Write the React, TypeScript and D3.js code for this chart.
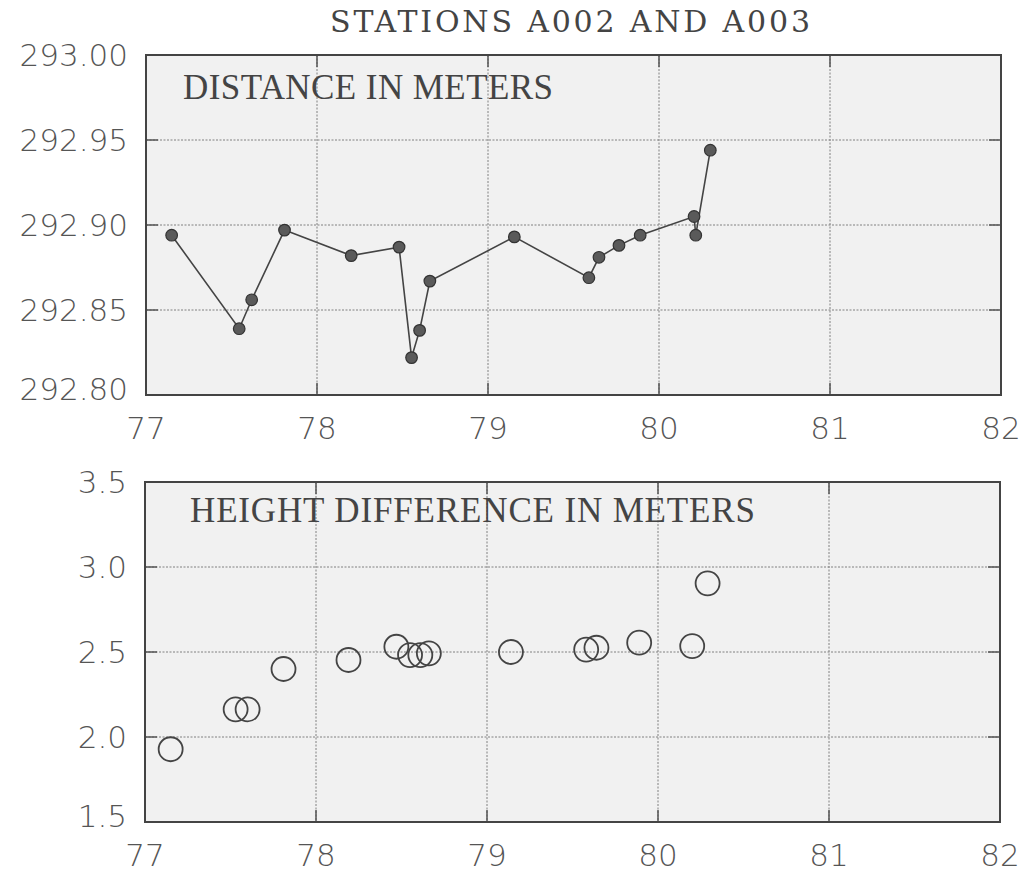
import React from "react";
import * as d3 from "d3";

const chartTitle = "STATIONS A002 AND A003";
const distanceLabel = "DISTANCE IN METERS";
const heightLabel = "HEIGHT DIFFERENCE IN METERS";

const xTicks = [77, 78, 79, 80, 81, 82];
const distanceTicks = [292.8, 292.85, 292.9, 292.95, 293.0];
const heightTicks = [1.5, 2.0, 2.5, 3.0, 3.5];

const distanceTimes = [77.15, 77.545, 77.618, 77.81, 78.2, 78.48, 78.553, 78.6, 78.66, 79.154, 79.59, 79.649, 79.766, 79.89, 80.205, 80.215, 80.3];
const distanceValues = [292.894, 292.839, 292.856, 292.897, 292.882, 292.887, 292.822, 292.838, 292.867, 292.893, 292.869, 292.881, 292.888, 292.894, 292.905, 292.894, 292.944];

const heightTimes = [77.15, 77.53, 77.6, 77.81, 78.19, 78.47, 78.55, 78.61, 78.66, 79.14, 79.58, 79.64, 79.89, 80.2, 80.29];
const heightValues = [1.928, 2.163, 2.163, 2.4, 2.453, 2.531, 2.482, 2.482, 2.492, 2.5, 2.514, 2.525, 2.555, 2.535, 2.904];

const labelFont = "'DejaVu Sans', sans-serif";
const serifFont = "'Liberation Serif', 'DejaVu Serif', serif";
const titleFont = "'DejaVu Serif', serif";

type PanelProps = {
  x: d3.ScaleLinear<number, number>;
  y: d3.ScaleLinear<number, number>;
  yTicks: number[];
  fmt: (v: number) => string;
  label: string;
  labelY: number;
  labelX: number;
  labelLen: number;
  children?: React.ReactNode;
};

function Panel({ x, y, yTicks, fmt, label, labelX, labelY, labelLen, children }: PanelProps) {
  const [x0, x1] = x.range();
  const [y0, y1] = y.range(); // y0 bottom, y1 top
  const tick = 12;
  return (
    <g>
      <rect x={x0} y={y1} width={x1 - x0} height={y0 - y1} fill="#f1f1f1" />
      {xTicks.slice(1, -1).map((t) => (
        <line key={"gx" + t} x1={x(t)} x2={x(t)} y1={y1} y2={y0} stroke="#808080" strokeWidth={1} strokeDasharray="2,1.5" />
      ))}
      {yTicks.slice(1, -1).map((t) => (
        <line key={"gy" + t} x1={x0} x2={x1} y1={y(t)} y2={y(t)} stroke="#808080" strokeWidth={1} strokeDasharray="2,1.5" />
      ))}
      {xTicks.slice(1, -1).map((t) => (
        <g key={"tx" + t}>
          <line x1={x(t)} x2={x(t)} y1={y0} y2={y0 - tick} stroke="#555" strokeWidth={1.5} />
          <line x1={x(t)} x2={x(t)} y1={y1} y2={y1 + tick} stroke="#555" strokeWidth={1.5} />
        </g>
      ))}
      {yTicks.slice(1, -1).map((t) => (
        <g key={"ty" + t}>
          <line x1={x0} x2={x0 + tick} y1={y(t)} y2={y(t)} stroke="#555" strokeWidth={1.5} />
          <line x1={x1} x2={x1 - tick} y1={y(t)} y2={y(t)} stroke="#555" strokeWidth={1.5} />
        </g>
      ))}
      <rect x={x0} y={y1} width={x1 - x0} height={y0 - y1} fill="none" stroke="#444" strokeWidth={2} />
      <text x={labelX} y={labelY} fontFamily={serifFont} fontSize={35} fill="#444" textLength={labelLen} lengthAdjust="spacing">
        {label}
      </text>
      {children}
      {yTicks.map((t, i) => (
        <text key={"ly" + t} x={x0 - 18} y={y(t) + (i === 0 ? -6 : 0)} textAnchor="end" dominantBaseline="central" fontFamily={labelFont} fontSize={31} fill="#555" fontWeight={300}>
          {fmt(t)}
        </text>
      ))}
      {xTicks.map((t) => (
        <text key={"lx" + t} x={x(t)} y={y0 + 33} textAnchor="middle" dominantBaseline="central" fontFamily={labelFont} fontSize={31} fill="#555" fontWeight={300}>
          {t}
        </text>
      ))}
    </g>
  );
}

export default function App() {
  const xTop = d3.scaleLinear().domain([77, 82]).range([146, 1001]);
  const yTop = d3.scaleLinear().domain([292.8, 293.0]).range([395, 55]);
  const xBot = d3.scaleLinear().domain([77, 82]).range([145, 1000]);
  const yBot = d3.scaleLinear().domain([1.5, 3.5]).range([822, 482]);

  const distPts: [number, number][] = distanceTimes.map((t, i) => [t, distanceValues[i]]);
  const line = d3
    .line<[number, number]>()
    .x((d) => xTop(d[0]))
    .y((d) => yTop(d[1]));

  return (
    <svg width={1026} height={876} style={{ position: "absolute", left: 0, top: 0, background: "#fff" }}>
      <rect x={0} y={0} width={1026} height={876} fill="#fff" />
      <text x={570} y={32} textAnchor="middle" fontFamily={titleFont} fontSize={30} fill="#444" fontWeight={300} textLength={480} lengthAdjust="spacing">
        {chartTitle}
      </text>
      <Panel x={xTop} y={yTop} yTicks={distanceTicks} fmt={d3.format(".2f")} label={distanceLabel} labelX={183} labelY={99} labelLen={370}>
        <path d={line(distPts) || ""} fill="none" stroke="#444" strokeWidth={1.6} />
        {distPts.map((d, i) => (
          <circle key={i} cx={xTop(d[0])} cy={yTop(d[1])} r={5.8} fill="#5a5a5a" stroke="#333" strokeWidth={1.2} />
        ))}
      </Panel>
      <Panel x={xBot} y={yBot} yTicks={heightTicks} fmt={d3.format(".1f")} label={heightLabel} labelX={190} labelY={522} labelLen={565}>
        {heightTimes.map((t, i) => (
          <circle key={i} cx={xBot(t)} cy={yBot(heightValues[i])} r={12} fill="none" stroke="#444" strokeWidth={1.8} />
        ))}
      </Panel>
    </svg>
  );
}
